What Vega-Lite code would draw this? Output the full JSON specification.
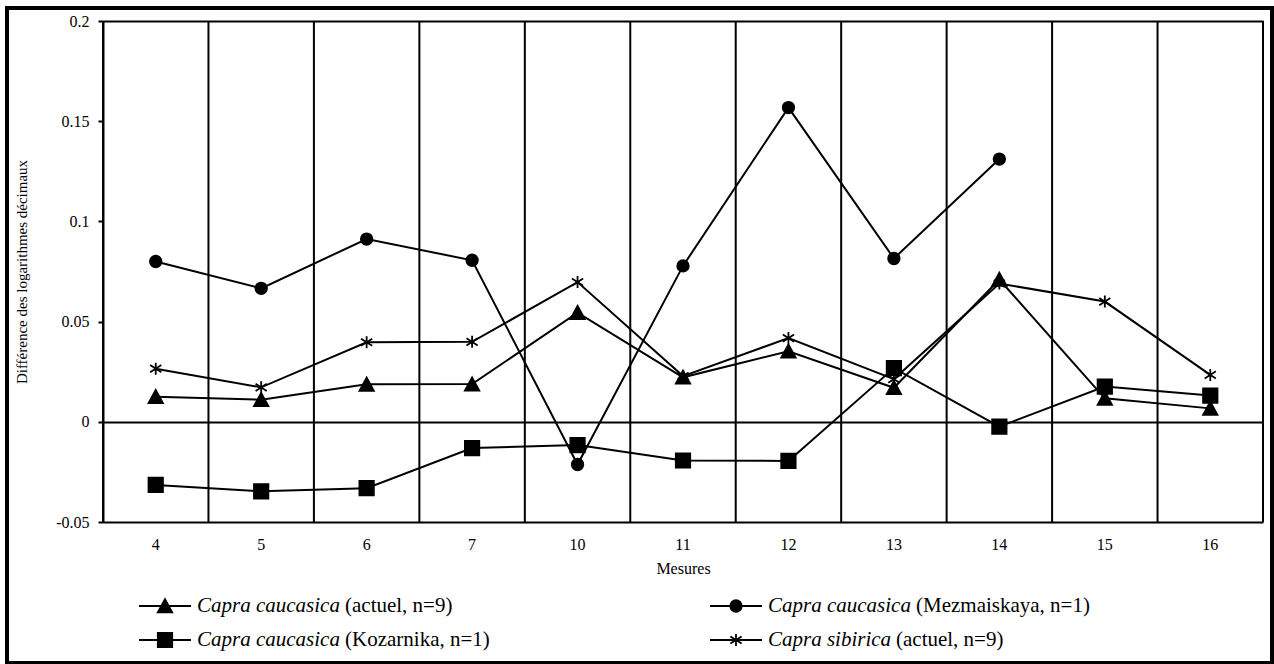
{
  "$schema": "https://vega.github.io/schema/vega-lite/v6.json",
  "width": 1265,
  "height": 655,
  "autosize": "none",
  "padding": {"left": 7, "top": 8, "right": 2, "bottom": 1},
  "background": "white",
  "config": {
    "font": "Liberation Serif",
    "view": {"stroke": "black", "strokeWidth": 4},
    "axis": {"labelColor": "black", "titleColor": "black", "titleFontWeight": "normal", "labelFont": "Liberation Serif", "titleFont": "Liberation Serif"}
  },
  "datasets": {
    "main": [
      {"serie": "actuel", "mesure": "4", "value": 0.0125},
      {"serie": "actuel", "mesure": "5", "value": 0.011},
      {"serie": "actuel", "mesure": "6", "value": 0.0187},
      {"serie": "actuel", "mesure": "7", "value": 0.0188},
      {"serie": "actuel", "mesure": "10", "value": 0.0545},
      {"serie": "actuel", "mesure": "11", "value": 0.0222},
      {"serie": "actuel", "mesure": "12", "value": 0.0352},
      {"serie": "actuel", "mesure": "13", "value": 0.017},
      {"serie": "actuel", "mesure": "14", "value": 0.071},
      {"serie": "actuel", "mesure": "15", "value": 0.0117},
      {"serie": "actuel", "mesure": "16", "value": 0.0067},
      {"serie": "Mezmaiskaya", "mesure": "4", "value": 0.08},
      {"serie": "Mezmaiskaya", "mesure": "5", "value": 0.0666},
      {"serie": "Mezmaiskaya", "mesure": "6", "value": 0.0912},
      {"serie": "Mezmaiskaya", "mesure": "7", "value": 0.0806},
      {"serie": "Mezmaiskaya", "mesure": "10", "value": -0.0213},
      {"serie": "Mezmaiskaya", "mesure": "11", "value": 0.0778},
      {"serie": "Mezmaiskaya", "mesure": "12", "value": 0.1568},
      {"serie": "Mezmaiskaya", "mesure": "13", "value": 0.0815},
      {"serie": "Mezmaiskaya", "mesure": "14", "value": 0.1311},
      {"serie": "Kozarnika", "mesure": "4", "value": -0.0315},
      {"serie": "Kozarnika", "mesure": "5", "value": -0.0347},
      {"serie": "Kozarnika", "mesure": "6", "value": -0.0331},
      {"serie": "Kozarnika", "mesure": "7", "value": -0.0131},
      {"serie": "Kozarnika", "mesure": "10", "value": -0.0116},
      {"serie": "Kozarnika", "mesure": "11", "value": -0.0193},
      {"serie": "Kozarnika", "mesure": "12", "value": -0.0195},
      {"serie": "Kozarnika", "mesure": "13", "value": 0.0268},
      {"serie": "Kozarnika", "mesure": "14", "value": -0.0024},
      {"serie": "Kozarnika", "mesure": "15", "value": 0.0176},
      {"serie": "Kozarnika", "mesure": "16", "value": 0.0131},
      {"serie": "sibirica", "mesure": "4", "value": 0.0265},
      {"serie": "sibirica", "mesure": "5", "value": 0.0172},
      {"serie": "sibirica", "mesure": "6", "value": 0.0397},
      {"serie": "sibirica", "mesure": "7", "value": 0.0399},
      {"serie": "sibirica", "mesure": "10", "value": 0.0697},
      {"serie": "sibirica", "mesure": "11", "value": 0.0228},
      {"serie": "sibirica", "mesure": "12", "value": 0.0418},
      {"serie": "sibirica", "mesure": "13", "value": 0.0213},
      {"serie": "sibirica", "mesure": "14", "value": 0.069},
      {"serie": "sibirica", "mesure": "15", "value": 0.06},
      {"serie": "sibirica", "mesure": "16", "value": 0.0234}
    ],
    "legend": [
      {"serie": "actuel", "col": "L", "row": "1", "name": "Capra caucasica", "detail": "(actuel, n=9)"},
      {"serie": "Mezmaiskaya", "col": "R", "row": "1", "name": "Capra caucasica", "detail": "(Mezmaiskaya, n=1)"},
      {"serie": "Kozarnika", "col": "L", "row": "2", "name": "Capra caucasica", "detail": "(Kozarnika, n=1)"},
      {"serie": "sibirica", "col": "R", "row": "2", "name": "Capra sibirica", "detail": "(actuel, n=9)"}
    ]
  },
  "resolve": {"scale": {"x": "independent", "y": "independent"}},
  "layer": [
    {
      "data": {"name": "main"},
      "layer": [
        {
          "transform": [{"filter": "datum.serie === 'actuel'"}],
          "mark": {"type": "rule", "color": "black", "strokeWidth": 2},
          "encoding": {
            "x": {
              "field": "mesure", "type": "ordinal", "bandPosition": 0,
              "scale": {"type": "band", "domain": ["4","5","6","7","10","11","12","13","14","15","16"], "range": [96, 1256], "paddingInner": 0, "paddingOuter": 0},
              "axis": {"title": "Mesures", "orient": "bottom", "offset": -141, "ticks": false, "tickSize": 0, "labelPadding": 14, "labelFontSize": 16, "labelAngle": 0, "domainColor": "black", "domainWidth": 2, "grid": false, "titleFontSize": 16, "titlePadding": 8}
            },
            "y": {
              "datum": -0.05, "type": "quantitative",
              "scale": {"domain": [-0.05, 0.2], "range": [514, 13], "nice": false, "zero": false},
              "axis": {"title": "Différence des logarithmes décimaux", "orient": "left", "offset": -96, "values": [-0.05, 0, 0.05, 0.1, 0.15, 0.2], "labelExpr": "'' + datum.value", "tickSize": 5, "tickWidth": 2, "tickColor": "black", "labelPadding": 9, "labelFontSize": 16, "domainColor": "black", "domainWidth": 2, "grid": true, "gridColor": {"condition": {"test": "datum.value === 0 || datum.value === 0.2", "value": "black"}, "value": "transparent"}, "gridWidth": 2, "titleFontSize": 15, "titlePadding": 26}
            },
            "y2": {"datum": 0.2}
          }
        },
        {
          "transform": [{"filter": "datum.serie === 'actuel' && datum.mesure === '16'"}],
          "mark": {"type": "rule", "color": "black", "strokeWidth": 2},
          "encoding": {
            "x": {"field": "mesure", "type": "ordinal", "bandPosition": 1},
            "y": {"datum": -0.05, "type": "quantitative"},
            "y2": {"datum": 0.2}
          }
        },
        {
          "mark": {"type": "line", "color": "black", "strokeWidth": 2},
          "encoding": {
            "x": {"field": "mesure", "type": "ordinal"},
            "y": {"field": "value", "type": "quantitative"},
            "detail": {"field": "serie"}
          }
        },
        {
          "mark": {"type": "point", "filled": true, "fill": "black", "stroke": "black", "strokeWidth": 1.8, "opacity": 1, "size": 256},
          "encoding": {
            "x": {"field": "mesure", "type": "ordinal"},
            "y": {"field": "value", "type": "quantitative"},
            "shape": {
              "field": "serie", "type": "nominal", "legend": null,
              "scale": {
                "domain": ["actuel", "Mezmaiskaya", "Kozarnika", "sibirica"],
                "range": [
                  "M0,-0.85L0.9,0.8L-0.9,0.8Z",
                  "M-0.72,0A0.72,0.72,0,1,0,0.72,0A0.72,0.72,0,1,0,-0.72,0Z",
                  "M-0.9,-0.9L0.9,-0.9L0.9,0.9L-0.9,0.9Z",
                  "M0,-0.75L0,0.75M-0.7,-0.45L0.7,0.45M-0.7,0.45L0.7,-0.45"
                ]
              }
            }
          }
        }
      ]
    },
    {
      "data": {"name": "legend"},
      "layer": [
        {
          "mark": {"type": "tick", "orient": "horizontal", "size": 52, "thickness": 2, "color": "black", "opacity": 1},
          "encoding": {
            "x": {"field": "col", "type": "nominal", "axis": null, "scale": {"type": "point", "domain": ["L", "R"], "range": [158, 729], "padding": 0}},
            "y": {"field": "row", "type": "nominal", "axis": null, "scale": {"type": "point", "domain": ["1", "2"], "range": [598, 632], "padding": 0}}
          }
        },
        {
          "mark": {"type": "point", "filled": true, "fill": "black", "stroke": "black", "strokeWidth": 1.8, "opacity": 1, "size": 256},
          "encoding": {
            "x": {"field": "col", "type": "nominal"},
            "y": {"field": "row", "type": "nominal"},
            "shape": {"field": "serie", "type": "nominal", "legend": null}
          }
        },
        {
          "mark": {"type": "text", "align": "left", "baseline": "middle", "dx": 32, "fontSize": 21, "fontStyle": "italic", "font": "Liberation Serif", "color": "black"},
          "encoding": {
            "x": {"field": "col", "type": "nominal"},
            "y": {"field": "row", "type": "nominal"},
            "text": {"field": "name"}
          }
        },
        {
          "transform": [{"filter": "datum.name === 'Capra caucasica'"}],
          "mark": {"type": "text", "align": "left", "baseline": "middle", "dx": 180, "fontSize": 21, "font": "Liberation Serif", "color": "black"},
          "encoding": {
            "x": {"field": "col", "type": "nominal"},
            "y": {"field": "row", "type": "nominal"},
            "text": {"field": "detail"}
          }
        },
        {
          "transform": [{"filter": "datum.name === 'Capra sibirica'"}],
          "mark": {"type": "text", "align": "left", "baseline": "middle", "dx": 160, "fontSize": 21, "font": "Liberation Serif", "color": "black"},
          "encoding": {
            "x": {"field": "col", "type": "nominal"},
            "y": {"field": "row", "type": "nominal"},
            "text": {"field": "detail"}
          }
        }
      ]
    }
  ]
}
